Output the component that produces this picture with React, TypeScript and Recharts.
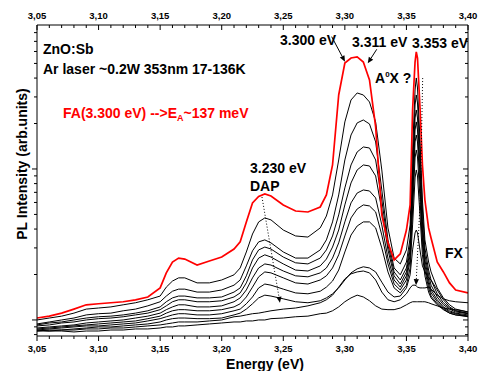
import React from 'react';
import { LineChart, Line, XAxis, YAxis, ReferenceLine } from 'recharts';

// Photon energy grid (eV), denser around the narrow bound-exciton line
const energy = [
  3.05, 3.06, 3.07, 3.08, 3.09, 3.10, 3.11, 3.12, 3.13, 3.14, 3.15, 3.155, 3.16, 3.165, 3.17,
  3.18, 3.19, 3.20, 3.21, 3.215, 3.22, 3.225, 3.23, 3.235, 3.24, 3.25, 3.26, 3.27, 3.28, 3.285,
  3.29, 3.295, 3.30, 3.305, 3.31, 3.315, 3.32, 3.325, 3.33, 3.335, 3.34, 3.345, 3.35, 3.353, 3.355,
  3.357, 3.358, 3.359, 3.361, 3.363, 3.365, 3.368, 3.37, 3.375, 3.38, 3.385, 3.39, 3.40,
];

// PL intensity (arb. units), lowest temperature spectrum (drawn in red)
const spec17K = [
  103, 106, 111, 118, 126, 128, 130, 132, 136, 142, 163, 205, 242, 257, 253,
  231, 246, 261, 295, 329, 446, 596, 658, 683, 662, 578, 527, 519, 560, 673,
  1063, 3091, 5030, 5430, 5520, 5110, 3886, 1900, 496, 324, 250, 274, 394, 578, 2459,
  5110, 5960, 5430, 2570, 1063, 623, 407, 349, 242, 208, 176, 158, 151,
];

// Spectra at increasing temperature (black)
const specT1 = [
  100, 103, 106, 111, 118, 120, 122, 126, 130, 136, 144, 165, 181, 190, 190,
  176, 176, 184, 199, 221, 282, 371, 446, 474, 460, 394, 360, 354, 407, 488,
  673, 1147, 2049, 2864, 3187, 3091, 2778, 2049, 985, 407, 257, 235, 291, 426, 1336,
  3336, 4006, 3439, 1556, 623, 339, 242, 208, 163, 140, 126, 118, 113,
];
const specT2 = [
  94.1, 97.0, 100, 103, 108, 110, 111, 115, 118, 124, 132, 144, 155, 160, 160,
  153, 153, 158, 170, 184, 228, 287, 329, 339, 324, 282, 257, 257, 291, 339,
  446, 673, 1147, 1679, 2018, 2111, 1987, 1510, 726, 339, 221, 199, 242, 349, 985,
  2654, 3091, 2736, 1336, 535, 300, 214, 184, 149, 130, 120, 115, 111,
];
const specT3 = [
  92.7, 95.5, 97.0, 100, 103, 105, 106, 108, 111, 115, 122, 132, 140, 144, 144,
  140, 140, 142, 153, 163, 196, 250, 291, 304, 295, 261, 239, 235, 257, 291,
  360, 496, 749, 1063, 1296, 1399, 1377, 1147, 623, 314, 208, 184, 221, 314, 846,
  2176, 2459, 2176, 1063, 446, 270, 199, 170, 142, 126, 118, 113, 110,
];
const specT4 = [
  91.3, 92.7, 95.5, 97.0, 100, 102, 103, 105, 108, 111, 117, 124, 132, 136, 136,
  132, 132, 134, 142, 151, 176, 221, 257, 270, 261, 235, 214, 211, 228, 253,
  304, 394, 578, 808, 985, 1063, 1047, 899, 535, 291, 196, 173, 208, 291, 726,
  1813, 2049, 1813, 913, 394, 250, 184, 158, 136, 122, 115, 111, 108,
];
const specT5 = [
  88.5, 89.9, 91.3, 92.7, 95.5, 97.0, 98.5, 100, 103, 106, 111, 117, 122, 126, 126,
  122, 122, 124, 132, 140, 158, 190, 221, 235, 231, 211, 196, 193, 205, 221,
  257, 324, 446, 596, 693, 726, 715, 643, 426, 257, 184, 165, 196, 270, 623,
  1510, 1679, 1510, 784, 349, 231, 173, 151, 132, 120, 113, 110, 106,
];
const specT6 = [
  87.2, 88.5, 89.9, 91.3, 92.7, 94.1, 95.5, 97.0, 98.5, 102, 106, 111, 115, 117, 117,
  115, 115, 117, 122, 128, 142, 165, 193, 208, 205, 190, 176, 173, 184, 196,
  221, 270, 360, 474, 543, 578, 569, 519, 365, 235, 173, 158, 184, 250, 535,
  1183, 1336, 1201, 643, 314, 214, 163, 144, 128, 118, 111, 108, 106,
];
const specT7 = [
  85.8, 87.2, 88.5, 89.9, 91.3, 91.3, 92.7, 94.1, 95.5, 98.5, 102, 105, 108, 110, 110,
  108, 108, 110, 115, 118, 128, 142, 163, 173, 170, 160, 151, 149, 155, 165,
  181, 214, 282, 365, 419, 446, 446, 407, 300, 208, 163, 151, 170, 221, 426,
  872, 985, 899, 496, 270, 196, 153, 140, 126, 117, 111, 108, 105,
];
const specT8 = [
  84.5, 85.8, 85.8, 87.2, 88.5, 89.9, 89.9, 91.3, 92.7, 94.1, 97.0, 100, 102, 103, 103,
  102, 102, 103, 108, 111, 118, 128, 140, 146, 144, 138, 132, 130, 134, 140,
  149, 163, 184, 205, 218, 225, 221, 208, 178, 153, 142, 144, 163, 199, 291,
  377, 394, 377, 291, 228, 208, 190, 184, 158, 136, 122, 115, 110,
];
const specT9 = [
  84.5, 84.5, 85.8, 85.8, 87.2, 87.2, 88.5, 88.5, 89.9, 91.3, 92.7, 94.1, 95.5, 97.0, 97.0,
  97.0, 98.5, 100, 105, 106, 108, 110, 111, 113, 115, 118, 120, 124, 130, 136,
  146, 165, 187, 202, 208, 211, 205, 184, 153, 136, 132, 136, 149, 163, 170,
  170, 168, 165, 163, 163, 163, 165, 160, 146, 138, 134, 132, 130,
];
const specT10 = [
  85.8, 84.5, 84.5, 83.3, 84.5, 84.5, 85.8, 85.8, 87.2, 87.2, 88.5, 89.9, 89.9, 91.3, 91.3,
  92.7, 94.1, 95.5, 97.0, 97.0, 98.5, 98.5, 100, 100, 102, 103, 105, 106, 110, 111,
  115, 122, 132, 140, 146, 142, 134, 124, 118, 117, 117, 120, 126, 130, 132,
  132, 132, 132, 132, 132, 132, 130, 128, 124, 120, 118, 117, 113,
];

const blackSpectra = [specT1, specT2, specT3, specT4, specT5, specT6, specT7, specT8, specT9, specT10];

// Axis ticks
const xTicks = [
  3.05, 3.06, 3.07, 3.08, 3.09, 3.10, 3.11, 3.12, 3.13, 3.14, 3.15, 3.16, 3.17, 3.18, 3.19,
  3.20, 3.21, 3.22, 3.23, 3.24, 3.25, 3.26, 3.27, 3.28, 3.29, 3.30, 3.31, 3.32, 3.33, 3.34,
  3.35, 3.36, 3.37, 3.38, 3.39, 3.40,
];
const xMajor = [3.05, 3.10, 3.15, 3.20, 3.25, 3.30, 3.35, 3.40];
const yTicks = [80, 90, 100, 200, 300, 400, 500, 600, 700, 800, 900, 1000, 2000, 3000, 4000, 5000, 6000, 7000, 8000];
const yMajor = [100, 1000];

const xDomain = [3.05, 3.40];
const yDomain = [78.3, 8985];

const rows = energy.map((e, i) => {
  const r: Record<string, number> = { e, red: spec17K[i] };
  blackSpectra.forEach((s, k) => {
    r['t' + (k + 1)] = s[i];
  });
  return r;
});

const FONT = '"Liberation Sans", Arial, Helvetica, sans-serif';

const isMajorX = (v: number) => xMajor.some((m) => Math.abs(m - v) < 1e-6);
const isMajorY = (v: number) => yMajor.some((m) => Math.abs(m - v) < 1e-6);
const fmtX = (v: number) => v.toFixed(2).replace('.', ',');

const BottomTick = (p: any) => {
  const major = isMajorX(p.payload.value);
  return (
    <g>
      <line x1={p.x} y1={p.y} x2={p.x} y2={p.y + (major ? 5 : 3)} stroke="#000" />
      {major && (
        <text x={p.x} y={p.y + 16} textAnchor="middle" fontSize={9.5} fontWeight="bold" fontFamily={FONT} fill="#000">
          {fmtX(p.payload.value)}
        </text>
      )}
    </g>
  );
};

const TopTick = (p: any) => {
  const major = isMajorX(p.payload.value);
  return (
    <g>
      <line x1={p.x} y1={p.y} x2={p.x} y2={p.y + (major ? 5 : 3)} stroke="#000" />
      {major && (
        <text x={p.x} y={p.y - 6} textAnchor="middle" fontSize={9.5} fontWeight="bold" fontFamily={FONT} fill="#000">
          {fmtX(p.payload.value)}
        </text>
      )}
    </g>
  );
};

const LeftTick = (p: any) => {
  const major = isMajorY(p.payload.value);
  return <line x1={p.x} y1={p.y} x2={p.x - (major ? 5 : 3)} y2={p.y} stroke="#000" />;
};

const RightTick = (p: any) => {
  const major = isMajorY(p.payload.value);
  return <line x1={p.x} y1={p.y} x2={p.x - (major ? 5 : 3)} y2={p.y} stroke="#000" />;
};

// Line segment with optional arrow head at its end point
const arrowShape = (head: boolean, dash?: string) => (p: any) => {
  const { x1, y1, x2, y2 } = p;
  const ang = Math.atan2(y2 - y1, x2 - x1);
  const L = head ? 6 : 0;
  const W = 2.6;
  const bx = x2 - L * Math.cos(ang);
  const by = y2 - L * Math.sin(ang);
  const px = -Math.sin(ang) * W;
  const py = Math.cos(ang) * W;
  return (
    <g>
      <line x1={x1} y1={y1} x2={bx} y2={by} stroke="#000" strokeWidth={1} strokeDasharray={dash} />
      {head && <polygon points={`${x2},${y2} ${bx + px},${by + py} ${bx - px},${by - py}`} fill="#000" />}
    </g>
  );
};

const txt = {
  fontFamily: FONT,
  fontWeight: 'bold' as const,
  fill: '#000',
};

export default function App() {
  return (
    <div style={{ position: 'relative', width: 470, height: 363, marginLeft: 8, marginTop: 8 }}>
      <style>{'html, body { overflow: hidden; margin: 0; } .recharts-surface { overflow: visible; }'}</style>
      <LineChart width={470} height={363} data={rows} margin={{ top: 0, right: 0, bottom: 0, left: 0 }}>
        <XAxis
          xAxisId="b"
          dataKey="e"
          type="number"
          domain={xDomain}
          ticks={xTicks}
          interval={0}
          allowDataOverflow
          height={35}
          tickSize={0}
          tickMargin={0}
          tickLine={false}
          tick={<BottomTick />}
          axisLine={{ stroke: '#000' }}
        />
        <XAxis
          xAxisId="t"
          orientation="top"
          dataKey="e"
          type="number"
          domain={xDomain}
          ticks={xTicks}
          interval={0}
          allowDataOverflow
          height={17}
          tickSize={0}
          tickMargin={0}
          tickLine={false}
          tick={<TopTick />}
          axisLine={{ stroke: '#000' }}
        />
        <YAxis
          yAxisId="l"
          scale="log"
          type="number"
          domain={yDomain}
          ticks={yTicks}
          interval={0}
          allowDataOverflow
          width={29}
          tickSize={0}
          tickMargin={0}
          tickLine={false}
          tick={<LeftTick />}
          axisLine={{ stroke: '#000' }}
        />
        <YAxis
          yAxisId="r"
          orientation="right"
          scale="log"
          type="number"
          domain={yDomain}
          ticks={yTicks}
          interval={0}
          allowDataOverflow
          width={10}
          tickSize={0}
          tickMargin={0}
          tickLine={false}
          tick={<RightTick />}
          axisLine={{ stroke: '#000' }}
        />

        {blackSpectra.map((_, k) => (
          <Line
            key={k}
            xAxisId="b"
            yAxisId="l"
            dataKey={'t' + (k + 1)}
            type="linear"
            stroke="#000"
            strokeWidth={1}
            dot={false}
            isAnimationActive={false}
          />
        ))}
        <Line
          xAxisId="t"
          yAxisId="r"
          dataKey="red"
          type="linear"
          stroke="#ff0000"
          strokeWidth={1.7}
          dot={false}
          isAnimationActive={false}
        />

        {/* DAP shift */}
        <ReferenceLine
          xAxisId="b"
          yAxisId="l"
          segment={[{ x: 3.2327, y: 652 }, { x: 3.2473, y: 130 }]}
          shape={arrowShape(true, '1 2')}
        />
        {/* A0X shift */}
        <ReferenceLine
          xAxisId="b"
          yAxisId="l"
          segment={[{ x: 3.3632, y: 4000 }, { x: 3.3612, y: 623 }]}
          shape={arrowShape(false, '1 2')}
        />
        <ReferenceLine
          xAxisId="b"
          yAxisId="l"
          segment={[{ x: 3.3612, y: 623 }, { x: 3.3578, y: 170 }]}
          shape={arrowShape(true, '1 2')}
        />
        {/* peak markers */}
        <ReferenceLine
          xAxisId="b"
          yAxisId="l"
          segment={[{ x: 3.2893, y: 7520 }, { x: 3.3001, y: 5134 }]}
          shape={arrowShape(true)}
        />
        <ReferenceLine
          xAxisId="b"
          yAxisId="l"
          segment={[{ x: 3.3259, y: 6203 }, { x: 3.3186, y: 5012 }]}
          shape={arrowShape(true)}
        />
      </LineChart>

      <svg
        width={470}
        height={363}
        style={{ position: 'absolute', left: 0, top: 0, pointerEvents: 'none', overflow: 'visible' }}
      >
        <text x={35} y={46} fontSize={14} {...txt}>ZnO:Sb</text>
        <text x={35} y={66} fontSize={14} {...txt}>Ar laser ~0.2W 353nm 17-136K</text>
        <text x={55} y={110} fontSize={14} {...txt} fill="#ff0000">
          FA(3.300 eV) --&gt;E<tspan fontSize={9} dy={3}>A</tspan><tspan dy={-3}>~137 meV</tspan>
        </text>
        <text x={272} y={37} fontSize={14} {...txt}>3.300 eV</text>
        <text x={344} y={39} fontSize={14} {...txt}>3.311 eV</text>
        <text x={404} y={40} fontSize={14} {...txt}>3.353 eV</text>
        <text x={367} y={75} fontSize={14} {...txt}>
          A<tspan fontSize={8} dy={-6}>0</tspan><tspan dy={6}>X ?</tspan>
        </text>
        <text x={242} y={165} fontSize={14} {...txt}>3.230 eV</text>
        <text x={242} y={183} fontSize={14} {...txt}>DAP</text>
        <text x={437} y={250} fontSize={14} {...txt}>FX</text>
        <text x={257} y={361} fontSize={14} textAnchor="middle" {...txt}>Energy (eV)</text>
        <text x={19} y={156} fontSize={14} textAnchor="middle" transform="rotate(-90 19 156)" {...txt}>
          PL Intensity (arb.units)
        </text>
      </svg>
    </div>
  );
}
